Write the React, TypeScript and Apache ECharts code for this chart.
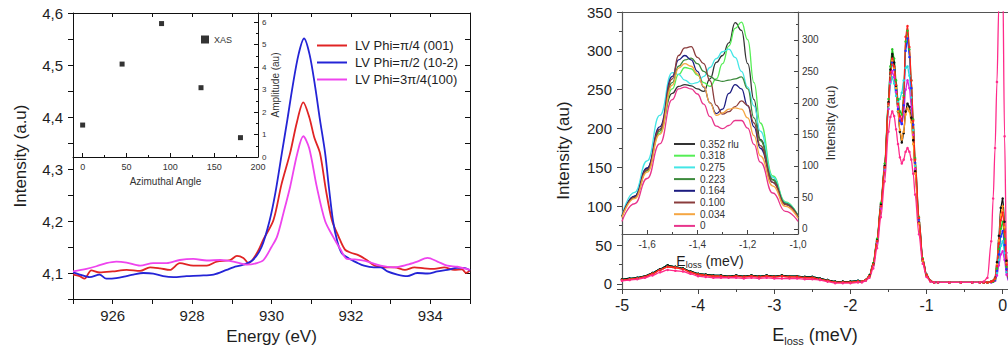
import React, { useEffect, useRef } from 'react';
import * as echarts from 'echarts';

const FONT = '"Liberation Sans", Arial, Helvetica, sans-serif';
const TXT = '#1e1e1e';

// ---------- Left chart: XAS spectra ----------
const leftNames = ['LV Phi=π/4 (001)', 'LV Phi=π/2 (10-2)', 'LV Phi=3π/4(100)'];
const leftColors = ['#e02424', '#2424d6', '#ee44ee'];

const redPhi4: [number, number][] = [
  [925.0, 4.097], [925.17, 4.094], [925.29, 4.089], [925.46, 4.105], [925.67, 4.101], [926.0, 4.103],
  [926.35, 4.106], [926.69, 4.104], [926.94, 4.111], [927.19, 4.109], [927.44, 4.106], [927.69, 4.119],
  [928.03, 4.114], [928.37, 4.114], [928.62, 4.122], [928.96, 4.125], [929.13, 4.133], [929.29, 4.129],
  [929.42, 4.119], [929.63, 4.138], [929.8, 4.165], [930.05, 4.202], [930.25, 4.27], [930.47, 4.331],
  [930.64, 4.39], [930.8, 4.428], [930.95, 4.4], [931.08, 4.36], [931.22, 4.331], [931.37, 4.26],
  [931.52, 4.202], [931.69, 4.17], [931.85, 4.145], [932.0, 4.139], [932.2, 4.134], [932.4, 4.125],
  [932.6, 4.114], [932.85, 4.111], [933.1, 4.111], [933.36, 4.106], [933.6, 4.111], [933.85, 4.109],
  [934.1, 4.108], [934.35, 4.111], [934.6, 4.106], [934.8, 4.107], [934.9, 4.1], [935.0, 4.105],
];
const bluePhi2: [number, number][] = [
  [925.0, 4.101], [925.17, 4.097], [925.42, 4.092], [925.67, 4.097], [925.84, 4.089], [926.09, 4.09],
  [926.35, 4.094], [926.52, 4.097], [926.77, 4.1], [927.02, 4.099], [927.27, 4.094], [927.53, 4.092],
  [927.86, 4.094], [928.2, 4.095], [928.54, 4.097], [928.87, 4.106], [929.04, 4.111], [929.29, 4.116],
  [929.53, 4.125], [929.75, 4.15], [929.95, 4.2], [930.1, 4.255], [930.26, 4.33], [930.4, 4.395],
  [930.53, 4.458], [930.68, 4.52], [930.82, 4.551], [930.96, 4.52], [931.1, 4.458], [931.22, 4.395],
  [931.35, 4.331], [931.45, 4.262], [931.55, 4.2], [931.66, 4.16], [931.77, 4.138], [931.95, 4.128],
  [932.15, 4.12], [932.33, 4.114], [932.58, 4.111], [932.75, 4.111], [932.92, 4.103], [933.17, 4.097],
  [933.42, 4.094], [933.67, 4.1], [933.93, 4.099], [934.18, 4.103], [934.43, 4.106], [934.68, 4.11],
  [934.85, 4.11], [935.0, 4.105],
];
const magentaPhi34: [number, number][] = [
  [925.0, 4.103], [925.34, 4.108], [925.59, 4.113], [925.84, 4.119], [926.09, 4.122], [926.35, 4.12],
  [926.69, 4.114], [927.02, 4.119], [927.36, 4.119], [927.69, 4.125], [928.03, 4.127], [928.37, 4.124],
  [928.71, 4.125], [929.04, 4.122], [929.38, 4.116], [929.63, 4.119], [929.8, 4.125], [930.0, 4.15],
  [930.14, 4.17], [930.3, 4.215], [930.47, 4.266], [930.65, 4.33], [930.8, 4.363], [930.95, 4.34],
  [931.14, 4.266], [931.35, 4.2], [931.55, 4.17], [931.74, 4.145], [931.9, 4.127], [932.1, 4.126],
  [932.42, 4.122], [932.75, 4.114], [933.08, 4.111], [933.42, 4.116], [933.67, 4.122], [933.93, 4.129],
  [934.18, 4.122], [934.43, 4.114], [934.68, 4.112], [935.0, 4.106],
];
const leftSeriesData = [redPhi4, bluePhi2, magentaPhi34];

// inset: amplitude vs azimuthal angle
const azimuthAngles = [0, 45, 90, 135, 180];
const xasAmplitude = [1.42, 4.13, 5.93, 3.08, 0.86];

// ---------- Right chart: RIXS spectra ----------
const mainLowX = [-5.0, -4.9, -4.8, -4.7, -4.6, -4.5, -4.4, -4.3, -4.2, -4.1, -4.0, -3.9, -3.8, -3.7, -3.6, -3.5,
  -3.4, -3.3, -3.2, -3.1, -3.0, -2.9, -2.8, -2.7, -2.6, -2.5, -2.4, -2.3, -2.2, -2.1, -2.0, -1.9];
const lowUpper = [6, 7, 8, 10, 14, 19, 24, 22, 20, 16, 13, 12, 11, 11, 10, 11, 10, 11, 10, 11, 10, 11, 10, 10, 9, 9, 7, 5, 3, 3, 3, 4];
const lowMid = [5, 6, 7, 9, 13, 18, 22, 21, 19, 15, 12, 11, 10, 10, 9, 10, 9, 10, 9, 10, 9, 10, 9, 9, 8, 8, 6, 4, 2, 2, 2, 3];
const lowPink = [4, 5, 6, 8, 11, 15, 18, 17, 16, 13, 10, 9, 8, 8, 8, 8, 7, 8, 7, 8, 7, 7, 7, 7, 6, 6, 5, 3, 1, 1, 1, 2];

const mainPeakX = [-1.85, -1.8, -1.75, -1.7, -1.65, -1.6, -1.55, -1.5, -1.475, -1.45, -1.425, -1.4, -1.375, -1.35,
  -1.325, -1.3, -1.275, -1.25, -1.225, -1.2, -1.175, -1.15, -1.1, -1.05, -1.0, -0.95, -0.9];
const peakRed = [3, 5, 10, 25, 55, 100, 150, 232, 272, 290, 280, 256, 232, 216, 210, 240, 318, 332, 305, 262, 210, 160, 85, 32, 12, 4, 2];
const peakGreen = [3, 5, 11, 27, 58, 104, 155, 238, 280, 302, 290, 262, 238, 222, 218, 242, 312, 326, 302, 262, 212, 162, 86, 33, 12, 4, 2];
const peakBlue = [3, 5, 10, 25, 55, 100, 150, 230, 268, 285, 276, 250, 225, 210, 206, 230, 300, 316, 292, 252, 205, 156, 83, 32, 12, 4, 2];
const peakCyan = [3, 5, 10, 25, 54, 99, 148, 226, 258, 266, 258, 242, 234, 238, 246, 262, 278, 280, 268, 240, 198, 152, 82, 31, 12, 4, 2];
const peakMagenta = [3, 5, 10, 24, 53, 97, 146, 225, 260, 274, 266, 247, 228, 213, 206, 218, 250, 262, 252, 228, 192, 148, 80, 31, 11, 4, 2];
const peakBlack = [3, 5, 11, 26, 56, 102, 152, 234, 276, 296, 285, 255, 222, 196, 182, 194, 222, 232, 228, 214, 185, 145, 79, 30, 11, 4, 2];
const peakOrange = [3, 5, 10, 25, 55, 100, 150, 230, 268, 288, 278, 252, 222, 198, 186, 196, 218, 226, 222, 208, 180, 142, 78, 30, 11, 4, 2];
const peakPink = [2, 4, 8, 20, 46, 86, 132, 196, 215, 222, 216, 199, 180, 163, 155, 160, 170, 175, 170, 160, 142, 115, 64, 26, 9, 3, 2];

const mainTailX = [-0.85, -0.7, -0.55, -0.4, -0.3, -0.25, -0.2, -0.15, -0.125, -0.1, -0.075, -0.05, -0.025, 0, 0.025, 0.05, 0.075, 0.1];
const tailBlack = [2, 2, 2, 2, 2, 2, 2, 3, 4, 8, 28, 62, 98, 110, 80, 30, 10, 4];
const tailOrange = [2, 2, 2, 2, 2, 2, 2, 3, 4, 7, 25, 56, 89, 100, 73, 27, 9, 4];
const tailRed = [2, 2, 2, 2, 2, 2, 2, 3, 4, 7, 23, 52, 82, 92, 67, 25, 8, 3];
const tailGreen = [2, 2, 2, 2, 2, 2, 2, 3, 3, 6, 20, 45, 71, 80, 58, 22, 7, 3];
const tailBlue = [2, 2, 2, 2, 2, 2, 2, 3, 3, 5, 17, 38, 61, 68, 50, 19, 6, 3];
const tailCyan = [2, 2, 2, 2, 2, 2, 2, 2, 3, 4, 14, 31, 49, 55, 40, 15, 5, 2];
const tailMagenta = [2, 2, 2, 2, 2, 2, 2, 2, 3, 4, 11, 24, 38, 42, 31, 12, 4, 2];
const tailPink = [2, 2, 2, 2, 2, 3, 8, 55, 110, 175, 260, 360, 430, 400, 190, 40, 10, 4];

const mainSeriesSpec = [
  { name: 'main-cyan', color: '#22dddd', low: lowUpper, peak: peakCyan, tail: tailCyan },
  { name: 'main-magenta', color: '#dd22dd', low: lowMid, peak: peakMagenta, tail: tailMagenta },
  { name: 'main-blue', color: '#2030ff', low: lowUpper, peak: peakBlue, tail: tailBlue },
  { name: 'main-green', color: '#22c422', low: lowUpper, peak: peakGreen, tail: tailGreen },
  { name: 'main-black', color: '#111111', low: lowUpper, peak: peakBlack, tail: tailBlack },
  { name: 'main-orange', color: '#ff9922', low: lowMid, peak: peakOrange, tail: tailOrange },
  { name: 'main-red', color: '#ff2020', low: lowMid, peak: peakRed, tail: tailRed },
  { name: 'main-pink', color: '#ff2a8a', low: lowPink, peak: peakPink, tail: tailPink },
];

// inset of right chart
const insetX = [-1.7, -1.65, -1.6, -1.55, -1.5, -1.475, -1.45, -1.425, -1.4, -1.375, -1.35, -1.325, -1.3, -1.275,
  -1.25, -1.225, -1.2, -1.175, -1.15, -1.1, -1.05, -1.0];
const insetNames = ['0.352 rlu', '0.318', '0.275', '0.223', '0.164', '0.100', '0.034', '0'];
const insetColors = ['#333333', '#55ee55', '#44e6e6', '#3c8a3c', '#1c1c80', '#8a3c3c', '#f5a642', '#e8358c'];
const inset0352 = [20, 52, 96, 158, 215, 226, 229, 227, 222, 218, 238, 264, 275, 295, 327, 315, 262, 205, 142, 78, 41, 20];
const inset0318 = [20, 50, 92, 152, 222, 245, 256, 254, 244, 232, 226, 238, 262, 290, 318, 328, 300, 232, 168, 84, 43, 21];
const inset0275 = [22, 58, 108, 180, 248, 245, 236, 230, 232, 242, 256, 270, 281, 285, 272, 250, 225, 195, 155, 82, 42, 20];
const inset0223 = [20, 50, 93, 155, 232, 258, 268, 271, 262, 250, 242, 236, 234, 236, 238, 241, 222, 176, 140, 78, 41, 20];
const inset0164 = [20, 52, 97, 162, 242, 268, 275, 268, 250, 225, 200, 183, 190, 215, 229, 222, 195, 162, 128, 74, 39, 19];
const inset0100 = [20, 50, 94, 158, 238, 275, 287, 289, 272, 262, 235, 196, 182, 186, 194, 203, 196, 168, 132, 74, 39, 19];
const inset0034 = [18, 48, 90, 150, 228, 255, 262, 258, 246, 226, 200, 180, 184, 190, 192, 190, 176, 148, 116, 68, 36, 17];
const inset0 = [12, 40, 80, 135, 205, 222, 225, 222, 214, 198, 178, 163, 159, 164, 172, 172, 160, 134, 106, 57, 28, 12];
const insetValues = [inset0352, inset0318, inset0275, inset0223, inset0164, inset0100, inset0034, inset0];

const comma = (s: string) => s.replace('.', ',');

function buildOption() {
  const axisLineBlack = { show: true, onZero: false, lineStyle: { color: '#111', width: 1 } };
  const axisLineGray = { show: true, onZero: false, lineStyle: { color: '#555', width: 1.2 } };
  const none = { show: false };
  const txt = (size: number) => ({ fontSize: size, color: TXT, fontFamily: FONT });

  const grid = [
    { left: 73, top: 13, width: 397, height: 286 },
    { left: 73, top: 13, width: 185, height: 144 },
    { left: 622, top: 12, width: 386, height: 277 },
    { left: 622, top: 12, width: 176, height: 222 },
  ].map((g) => ({ ...g, containLabel: false, outerBoundsMode: 'none' }));

  const xAxis: any[] = [
    {
      type: 'value', gridIndex: 0, position: 'bottom', min: 925, max: 935, interval: 1,
      axisLine: axisLineBlack, axisTick: { inside: false, length: 5, lineStyle: { color: '#111' } },
      splitLine: none,
      axisLabel: {
        ...txt(15), margin: 9,
        formatter: (v: number) => (Math.round(v) % 2 === 0 ? String(Math.round(v)) : ''),
      },
      name: 'Energy (eV)', nameLocation: 'middle', nameGap: 25, nameTextStyle: txt(17),
    },
    {
      type: 'value', gridIndex: 0, position: 'top', min: 925, max: 935, interval: 1,
      axisLine: axisLineBlack, axisTick: { inside: true, length: 4, lineStyle: { color: '#111' } },
      splitLine: none, axisLabel: none,
    },
    {
      type: 'value', gridIndex: 1, position: 'bottom', min: -11, max: 200, minInterval: 50, maxInterval: 50, splitNumber: 4,
      axisLine: axisLineBlack, axisTick: { inside: true, length: 4, lineStyle: { color: '#111' } },
      minorTick: { show: true, splitNumber: 2, length: 2, lineStyle: { color: '#111' } },
      splitLine: none, minorSplitLine: none,
      axisLabel: {
        ...txt(9), color: '#333', margin: 5,
        formatter: (v: number) => (v >= 0 && Math.abs(v % 50) < 1e-6 ? String(Math.round(v)) : ''),
      },
      name: 'Azimuthal Angle', nameLocation: 'middle', nameGap: 19, nameTextStyle: { ...txt(10), color: '#333' },
    },
    {
      type: 'value', gridIndex: 2, position: 'bottom', min: -5, max: 0.07, interval: 1,
      axisLine: axisLineGray, axisTick: { inside: false, length: 5, lineStyle: { color: '#444' } },
      minorTick: { show: true, splitNumber: 2, length: 3, lineStyle: { color: '#444' } },
      splitLine: none, minorSplitLine: none,
      axisLabel: {
        ...txt(16), margin: 8,
        formatter: (v: number) => (Math.abs(v - Math.round(v)) < 1e-6 ? String(Math.round(v)) : ''),
      },
      name: 'E{s|loss} (meV)', nameLocation: 'middle', nameGap: 34,
      nameTextStyle: { ...txt(18), rich: { s: { ...txt(11), padding: [12, 0, 0, 0] } } },
    },
    {
      type: 'value', gridIndex: 2, position: 'top', min: -5, max: 0.07, interval: 1,
      axisLine: axisLineGray, axisTick: none, splitLine: none, axisLabel: none,
    },
    {
      type: 'value', gridIndex: 3, position: 'bottom', min: -1.7, max: -1.0, minInterval: 0.2, maxInterval: 0.2, splitNumber: 3,
      axisLine: axisLineGray, axisTick: { inside: true, length: 4, lineStyle: { color: '#444' } },
      minorTick: { show: true, splitNumber: 2, length: 2, lineStyle: { color: '#444' } },
      splitLine: none, minorSplitLine: none,
      axisLabel: {
        ...txt(10), color: '#333', margin: 5,
        formatter: (v: number) => {
          const k = Math.round(v * 10);
          if (Math.abs(v * 10 - k) > 1e-6 || k % 2 !== 0) return '';
          return comma((k / 10).toFixed(1));
        },
      },
      name: 'E{s|loss} (meV)', nameLocation: 'middle', nameGap: 15,
      nameTextStyle: { ...txt(14), rich: { s: { ...txt(9), padding: [9, 0, 0, 0] } } },
    },
  ];

  const yAxis: any[] = [
    {
      type: 'value', gridIndex: 0, position: 'left', min: 4.05, max: 4.6, interval: 0.05,
      axisLine: axisLineBlack, axisTick: { inside: false, length: 5, lineStyle: { color: '#111' } },
      splitLine: none,
      axisLabel: {
        ...txt(15), margin: 10,
        formatter: (v: number) => {
          const k = Math.round(v * 100);
          return k % 10 === 0 ? comma((k / 100).toFixed(1)) : '';
        },
      },
      name: 'Intensity (a.u)', nameLocation: 'middle', nameRotate: 90, nameGap: 44, nameTextStyle: txt(17),
    },
    {
      type: 'value', gridIndex: 0, position: 'right', min: 4.05, max: 4.6, interval: 0.05,
      axisLine: axisLineBlack, axisTick: { inside: true, length: 5, lineStyle: { color: '#111' } },
      splitLine: none, axisLabel: none,
    },
    {
      type: 'value', gridIndex: 1, position: 'right', min: 0, max: 6.4, interval: 1,
      axisLine: axisLineBlack, axisTick: { inside: true, length: 4, lineStyle: { color: '#111' } },
      minorTick: { show: true, splitNumber: 2, length: 2, lineStyle: { color: '#111' } },
      splitLine: none, minorSplitLine: none,
      axisLabel: {
        ...txt(8), color: '#333', margin: 4,
        formatter: (v: number) => (Math.abs(v - Math.round(v)) < 1e-6 ? String(Math.round(v)) : ''),
      },
      name: 'Amplitude (au)', nameLocation: 'middle', nameRotate: 90, nameGap: 12, nameTextStyle: { ...txt(10), color: '#333' },
    },
    {
      type: 'value', gridIndex: 2, position: 'left', min: -6.5, max: 350, minInterval: 50, maxInterval: 50, splitNumber: 7,
      axisLine: axisLineGray, axisTick: { inside: false, length: 5, lineStyle: { color: '#444' } },
      minorTick: { show: true, splitNumber: 2, length: 3, lineStyle: { color: '#444' } },
      splitLine: none, minorSplitLine: none,
      axisLabel: {
        ...txt(15), margin: 10,
        formatter: (v: number) => {
          const k = Math.round(v);
          return Math.abs(v - k) < 1e-6 && k >= 0 && k % 50 === 0 ? String(k) : '';
        },
      },
      name: 'Intensity (au)', nameLocation: 'middle', nameRotate: 90, nameGap: 50, nameTextStyle: txt(17),
    },
    {
      type: 'value', gridIndex: 3, position: 'right', min: -8, max: 344, minInterval: 50, maxInterval: 50, splitNumber: 7,
      axisLine: axisLineGray, axisTick: { inside: true, length: 4, lineStyle: { color: '#444' } },
      minorTick: { show: true, splitNumber: 2, length: 2, lineStyle: { color: '#444' } },
      splitLine: none, minorSplitLine: none,
      axisLabel: {
        ...txt(10), color: '#333', margin: 4,
        formatter: (v: number) => {
          const k = Math.round(v);
          return Math.abs(v - k) < 1e-6 && k >= 0 && k <= 300 && k % 50 === 0 ? String(k) : '';
        },
      },
      name: 'Intensity (au)', nameLocation: 'middle', nameRotate: 90, nameGap: 26, nameTextStyle: { ...txt(13), color: '#333' },
    },
  ];

  const series: any[] = [];
  leftSeriesData.forEach((d, i) => {
    series.push({
      type: 'line', name: leftNames[i], xAxisIndex: 0, yAxisIndex: 0, data: d,
      smooth: 0.3, showSymbol: false, color: leftColors[i],
      lineStyle: { width: 1.8, color: leftColors[i] },
    });
  });
  series.push({
    type: 'scatter', name: 'XAS', xAxisIndex: 2, yAxisIndex: 2,
    data: azimuthAngles.map((a, i) => [a, xasAmplitude[i]]),
    symbol: 'rect', symbolSize: 5, itemStyle: { color: '#000' },
  });
  mainSeriesSpec.forEach((s) => {
    const data = [
      ...mainLowX.map((x, i) => [x, s.low[i]]),
      ...mainPeakX.map((x, i) => [x, s.peak[i]]),
      ...mainTailX.map((x, i) => [x, s.tail[i]]),
    ];
    series.push({
      type: 'line', name: s.name, xAxisIndex: 3, yAxisIndex: 3, data,
      smooth: 0.3, smoothMonotone: 'x', showSymbol: true, showAllSymbol: true,
      symbol: 'circle', symbolSize: 2.5, color: s.color,
      itemStyle: { color: s.color }, lineStyle: { width: 1.3, color: s.color }, clip: true,
    });
  });
  insetValues.forEach((vals, i) => {
    series.push({
      type: 'line', name: insetNames[i], xAxisIndex: 5, yAxisIndex: 4,
      data: insetX.map((x, j) => [x, vals[j]]),
      smooth: 0.5, smoothMonotone: 'x', showSymbol: false, color: insetColors[i],
      lineStyle: { width: 1.3, color: insetColors[i] }, clip: true,
    });
  });

  const legend = [
    {
      data: leftNames, left: 317, top: 38, orient: 'vertical', icon: 'rect', itemWidth: 30, itemHeight: 2,
      itemGap: 2, padding: 0, selectedMode: false,
      textStyle: { ...txt(13), lineHeight: 15, padding: [0, 0, 0, 3] },
    },
    {
      data: ['XAS'], left: 201, top: 35, icon: 'rect', itemWidth: 8, itemHeight: 8, padding: 0,
      selectedMode: false, textStyle: { ...txt(9), color: '#333' },
    },
    {
      data: insetNames, left: 674, top: 138.5, orient: 'vertical', icon: 'rect', itemWidth: 21, itemHeight: 2,
      itemGap: 0.7, padding: 0, selectedMode: false,
      textStyle: { ...txt(10), color: '#333', lineHeight: 11 },
    },
  ];

  return {
    animation: false,
    backgroundColor: '#ffffff',
    textStyle: { fontFamily: FONT },
    grid, xAxis, yAxis, series, legend,
  };
}

export default function App() {
  const ref = useRef<HTMLDivElement | null>(null);
  useEffect(() => {
    if (!ref.current) return;
    const chart = echarts.init(ref.current, undefined, { renderer: 'svg' });
    chart.setOption(buildOption() as any);
    return () => chart.dispose();
  }, []);
  return (
    <div
      ref={ref}
      style={{ position: 'absolute', left: 0, top: 0, width: 1008, height: 352, background: '#fff' }}
    />
  );
}
